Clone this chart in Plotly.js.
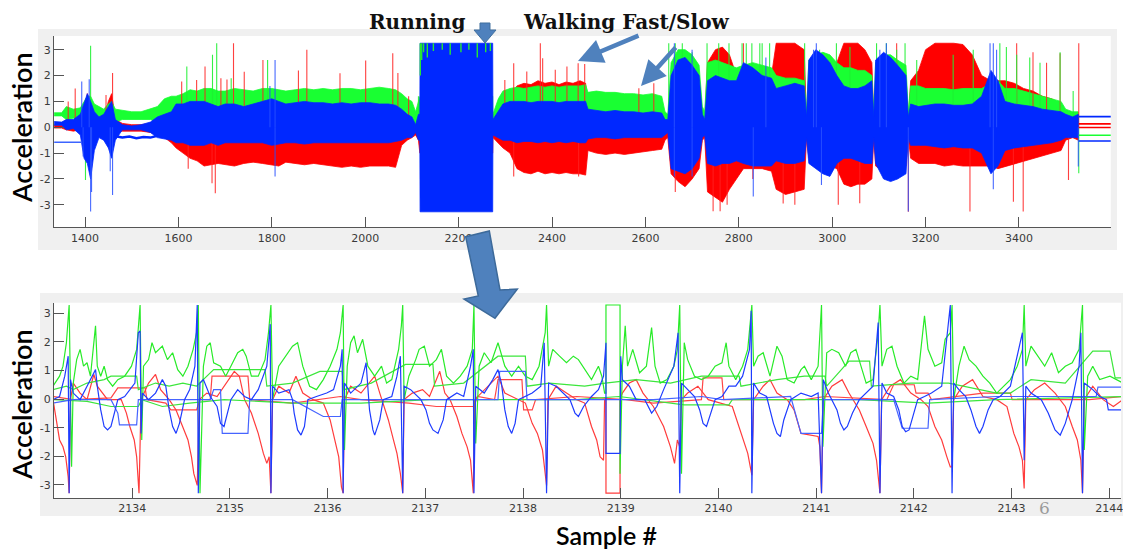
<!DOCTYPE html>
<html><head><meta charset="utf-8">
<script src="https://cdn.plot.ly/plotly-3.0.1.min.js"></script>
<style>html,body{margin:0;padding:0;background:#fff}#chart{width:1123px;height:552px}</style>
</head><body><div id="chart"></div>
<script>
// ---------- TOP PANEL: envelope of each colour per sample bin ----------
const envX = [
1334,1350,1360,1375,1390,1398,1405,1412,1420,1430,
1440,1450,1457,1465,1480,1500,1520,1540,1555,1570,
1585,1595,1610,1625,1640,1655,1670,1685,1700,1720,
1740,1760,1780,1800,1815,1830,1850,1870,1890,1910,
1930,1950,1970,1990,2010,2030,2050,2065,2078,2090,
2100,2108,2114,2117,2117.5,2273,2273.5,2285,2295,2310,
2325,2340,2355,2370,2385,2400,2415,2430,2445,2460,
2472,2477,2495,2515,2535,2555,2575,2595,2615,2635,
2642,2648,2655,2670,2685,2700,2715,2722,2727,2733,
2750,2765,2780,2795,2810,2830,2850,2870,2880,2900,
2920,2940,2945,2950,2965,2980,2995,3010,3025,3040,
3055,3070,3085,3089,3093,3110,3125,3140,3158,3163,
3168,3185,3200,3220,3240,3260,3280,3300,3320,3340,
3355,3370,3390,3410,3430,3450,3470,3490,3500,3515,
3527];
const greenHi = [
0.56,0.56,0.80,0.70,0.75,1.00,1.20,1.20,0.90,0.80,
0.70,0.90,1.00,0.70,0.65,0.60,0.60,0.70,0.80,1.10,
1.20,1.20,1.30,1.45,1.40,1.50,1.50,1.40,1.40,1.50,
1.45,1.40,1.50,1.50,1.45,1.40,1.45,1.50,1.45,1.50,
1.45,1.50,1.50,1.45,1.50,1.55,1.50,1.45,1.30,1.10,
1.00,0.60,1.00,1.20,1.20,1.20,0.50,1.10,1.40,1.50,
1.55,1.50,1.55,1.60,1.55,1.60,1.55,1.60,1.60,1.60,
1.65,1.35,1.40,1.35,1.35,1.30,1.30,1.25,1.30,1.20,
0.60,0.50,2.50,3.00,3.00,2.80,2.40,0.80,0.60,2.50,
2.60,2.50,2.40,2.30,2.40,2.50,2.40,2.30,2.00,1.90,
1.90,1.80,0.60,2.60,2.80,2.90,2.80,2.50,2.30,2.30,
2.20,2.20,2.00,0.60,2.50,2.80,2.80,2.60,2.40,0.60,
1.60,1.60,1.50,1.50,1.50,1.45,1.50,1.50,1.50,1.70,
1.80,1.50,1.50,1.40,1.30,1.20,1.10,1.00,0.70,0.60,
0.60];
const greenLo = [
0.44,0.44,0.30,0.35,0.30,0,0,0,0,0.20,
0.20,0.10,0,0.20,0.30,0.30,0.30,0.30,0.20,0.10,
0,0,0,0,0,0,0,0,0,0,
0,0,0,0,0,0,0,0,0,0,
0,0,0,0,0,0,0,0,0,0,
0,0,0,0,0,0,0,0,0,0,
0,0,0,0,0,0,0,0,0,0,
0,0,0,0,0,0,0,0,0,0,
0,0,0,0,0,0,0,0,0,0,
0,0,0,0,0,0,0,0,0,0,
0,0,0,0,0,0,0,0,0,0,
0,0,0,0,0,0,0,0,0,0,
0,0,0,0,0,0,0,0,0,0,
0,0,0,0,0,0,0,0,0,0,
0];
const redHi = [
0.08,0.08,0.30,0.25,0.30,0.40,1.30,0.80,0.30,0.30,
0.30,1.00,1.30,0.30,0.15,0.10,0.10,0.15,0.40,0.60,
0.50,0.80,0.90,1.00,1.00,1.20,1.10,1.10,1.10,1.20,
1.10,1.10,1.10,1.20,1.20,1.10,1.10,1.20,1.10,1.20,
1.10,1.20,1.20,1.10,1.20,1.20,1.20,1.10,1.00,0.60,
0.40,0.10,0.50,0.50,0.50,0.50,0.20,0.50,0.90,1.20,
1.60,1.70,1.65,1.80,1.70,1.75,1.65,1.75,1.70,1.80,
1.70,0.80,0.80,0.80,0.80,0.80,0.80,0.80,0.80,0.70,
0.30,0.30,1.50,2.00,2.20,2.00,1.80,0.50,0.30,2.50,
3.00,3.10,2.80,2.00,2.00,2.20,2.10,2.00,3.25,3.25,
3.25,3.00,0.30,1.50,1.50,1.60,1.60,2.50,3.25,3.25,
3.25,3.00,2.50,0.30,1.50,1.60,1.60,1.50,1.40,0.30,
1.80,2.20,3.00,3.25,3.25,3.25,3.20,2.80,2.00,1.80,
1.80,1.80,1.70,1.50,1.40,1.20,1.10,0.90,0.50,0.40,
0.40];
const redLo = [
-0.03,-0.03,-0.10,-0.15,-0.10,-0.40,-0.30,-0.30,-0.40,-0.20,
-0.10,-0.30,-0.40,-0.20,-0.15,-0.15,-0.15,-0.20,-0.30,-0.40,
-0.60,-0.80,-1.00,-1.20,-1.30,-1.50,-1.45,-1.40,-1.45,-1.50,
-1.40,-1.35,-1.40,-1.45,-1.50,-1.35,-1.40,-1.45,-1.40,-1.45,
-1.50,-1.55,-1.50,-1.55,-1.50,-1.50,-1.50,-1.55,-0.70,-0.50,
-0.40,-0.30,-0.50,-1.00,-1.00,-1.00,-0.40,-0.60,-0.80,-1.00,
-1.60,-1.75,-1.80,-1.70,-1.80,-1.75,-1.80,-1.75,-1.80,-1.80,
-1.85,-0.90,-1.00,-1.05,-1.00,-1.05,-1.00,-0.95,-0.90,-0.85,
-0.50,-0.40,-1.80,-2.10,-2.30,-2.00,-1.60,-0.50,-0.40,-2.50,
-2.70,-2.90,-2.40,-2.00,-1.60,-1.60,-1.60,-1.70,-2.40,-2.60,
-2.50,-2.40,-0.40,-1.20,-1.30,-1.40,-1.50,-1.60,-2.20,-2.30,
-2.20,-2.20,-2.00,-0.40,-1.50,-1.70,-1.80,-1.70,-1.50,-0.40,
-1.20,-1.40,-1.40,-1.40,-1.50,-1.45,-1.50,-1.50,-1.50,-1.50,
-1.60,-1.50,-1.40,-1.30,-1.20,-1.10,-1.00,-0.90,-0.50,-0.40,
-0.50];
const blueHi = [
0.22,0.20,0.30,0.30,0.50,0.90,1.30,1.00,0.60,0.40,
0.50,0.80,1.00,0.30,0.10,0.05,0.10,0.20,0.40,0.50,
0.60,0.90,0.90,1.00,1.00,1.00,0.90,0.80,0.90,0.90,
0.80,0.90,1.00,1.10,1.00,0.90,0.95,1.00,0.95,0.95,
0.90,0.95,0.90,0.95,0.95,0.90,0.90,0.85,0.70,0.50,
0.40,0.10,0.50,0.50,3.25,3.25,0.30,0.60,0.90,1.00,
1.00,1.00,0.95,1.00,1.00,1.00,0.95,1.00,1.00,1.00,
1.00,0.70,0.65,0.60,0.65,0.60,0.60,0.55,0.60,0.55,
0.30,0.30,2.00,2.60,2.70,2.40,2.00,0.50,0.30,1.80,
2.00,1.90,1.80,1.80,2.50,2.30,2.00,1.90,1.50,1.60,
1.70,1.60,0.40,2.60,3.00,2.80,2.50,2.00,1.60,1.50,
1.50,1.60,1.80,0.40,2.60,2.90,2.70,2.40,2.00,0.40,
0.90,0.80,0.85,0.90,0.90,0.85,0.85,0.90,1.20,2.20,
1.80,1.00,0.90,0.85,0.80,0.70,0.65,0.60,0.50,0.40,
0.50];
const blueLo = [
0.08,0.08,-0.10,-0.05,-0.30,-1.20,-1.40,-2.00,-0.90,-0.40,
-0.50,-0.80,-1.20,-0.50,-0.10,-0.10,-0.10,-0.20,-0.40,-0.45,
-0.50,-0.60,-0.60,-0.70,-0.70,-0.70,-0.60,-0.70,-0.60,-0.60,
-0.60,-0.60,-0.60,-0.70,-0.65,-0.60,-0.60,-0.65,-0.60,-0.60,
-0.60,-0.60,-0.60,-0.60,-0.60,-0.60,-0.60,-0.55,-0.50,-0.40,
-0.40,-0.20,-0.50,-0.50,-3.27,-3.27,-0.30,-0.40,-0.50,-0.50,
-0.60,-0.55,-0.55,-0.60,-0.55,-0.60,-0.55,-0.60,-0.55,-0.60,
-0.60,-0.45,-0.40,-0.40,-0.45,-0.40,-0.40,-0.40,-0.40,-0.40,
-0.30,-0.20,-1.60,-1.70,-1.80,-1.60,-1.20,-0.40,-0.30,-1.40,
-1.50,-1.40,-1.40,-1.30,-1.40,-1.50,-1.50,-1.50,-1.30,-1.40,
-1.40,-1.30,-0.40,-1.40,-1.60,-1.80,-1.90,-1.40,-1.20,-1.20,
-1.30,-1.40,-1.40,-0.40,-1.40,-2.00,-2.10,-2.00,-1.80,-0.40,
-0.70,-0.70,-0.70,-0.75,-0.80,-0.75,-0.80,-0.80,-1.00,-1.80,
-1.50,-0.90,-0.80,-0.75,-0.70,-0.65,-0.60,-0.50,-0.40,-0.40,
-0.40];

// isolated spikes (sample, tip value)
const redSpikeX = [1364,1379,1407,1445,1459,1607,1639,1657,1691,1704,1718,1741,1781,1857,1875,1946,2001,2059,2070,2093,2299,2318,2346,2375,2380,2407,2432,2456,2470,2586,2618,2810,3138,3395,3430,3459,3488,3528];
const redSpikeY = [1.0,1.5,1.2,1.25,2.1,1.77,1.83,2.35,1.9,1.85,3.25,2.15,2.6,2.2,3.0,2.09,2.58,2.86,2.1,1.2,1.83,2.48,2.16,3.25,2.67,2.22,2.35,2.48,2.45,1.51,1.7,3.25,3.25,3.25,2.9,2.5,2.86,3.25];
const redDipX = [1621,1672,1679,2318,2457,2664,2745,2760,2775,2830,2895,2920,3013,3059,3163,3295,3388,3409,3506];
const redDipY = [-1.6,-2.17,-2.55,-1.9,-1.9,-2.5,-3.25,-3.25,-3.0,-2.0,-2.95,-3.0,-3.0,-2.94,-3.27,-3.26,-2.88,-3.26,-2.04];
const greenSpikeX = [1412,1618,1673,1682,1713,1791,2114,2650,2664,2679,2700,2732,2757,2779,2807,2816,2828,2845,2850,2866,2941,2973,3009,3038,3095,3116,3138,3156,3181,3259,3302,3359,3373,3395,3423,3445,3488,3516];
const greenSpikeY = [3.15,2.35,2.8,3.25,1.9,2.6,1.2,3.25,3.25,3.25,2.9,3.25,3.25,3.25,3.25,3.25,3.25,3.25,3.25,3.25,3.25,3.0,3.25,3.1,3.25,3.25,3.0,3.25,2.6,2.8,3.0,3.25,3.1,2.8,2.7,2.5,2.9,1.4];
const greenDipX = [1401,3528];
const greenDipY = [-2.04,-1.78];
const blueSpikeX = [1393,1409,1796,1807,2662,2700,2858,2960,2966,3102,3116,3338,3345,3352];
const blueSpikeY = [1.77,1.86,1.6,2.6,3.25,3.0,2.7,3.0,3.25,3.0,3.25,3.25,3.25,3.0];
const blueDipX = [1396,1412,1414,1454,1459,1807,2662,2700,2831,2977,3163,3345,3527];
const blueDipY = [-1.13,-3.26,-2.5,-1.7,-2.62,-1.9,-1.9,-1.9,-2.68,-2.23,-3.26,-2.4,-1.52];
// green tufts inside the running block (from value up to the clip level)
const greenRunX = [2118,2121,2125,2133,2146,2165,2182,2205,2222,2240,2258,2268];
const greenRunLo = [2.0,2.6,2.9,2.7,2.95,3.0,2.8,2.9,3.0,2.7,2.9,2.95];
const runTop = 3.25;
// quiet-period flat lines
const blueFlatX = [1334,1393];
const blueFlatY = [-0.58,-0.58];
const blueDriftX = [1465,1480,1495,1510,1525,1540,1555];
const blueDriftY = [-0.35,-0.40,-0.36,-0.42,-0.38,-0.40,-0.33];
const endX = [3528,3597];
const endBlue = [0.41,-0.53];
const endRed = [0.13,-0.01];
const endGreen = [-0.31];

// ---------- BOTTOM PANEL: zoomed running segment, [sample, value] ----------
const redA = [[2133.19,-0.02],[2133.222,-0.73],[2133.257,-1.43],[2133.292,-1.67],[2133.32,-2.02],[2133.345,-2.72],[2133.355,-3.29],[2133.369,-0.02],[2133.397,0.56],[2133.467,0.21],[2133.538,-0.02],[2133.608,0.86],[2133.643,0.45],[2133.748,-0.02],[2133.888,-0.02],[2133.941,-0.49],[2133.976,-0.96],[2134.021,-1.43],[2134.046,-2.02],[2134.07,-3.29],[2134.091,-0.02],[2134.168,0.56],[2134.239,0.86],[2134.291,0.33],[2134.379,-0.02],[2134.449,-0.38],[2134.519,-0.96],[2134.571,-1.43],[2134.607,-2.02],[2134.631,-2.61],[2134.666,-3.02],[2134.687,-0.02],[2134.764,0.21],[2134.869,0.09],[2135.045,0.97],[2135.097,0.80],[2135.15,-0.02],[2135.22,-0.49],[2135.29,-1.20],[2135.343,-1.90],[2135.378,-2.25],[2135.402,-2.02],[2135.42,-3.29],[2135.437,-0.02],[2135.50,0.45],[2135.605,0.21],[2135.676,0.80],[2135.746,0.21],[2135.851,-0.02],[2135.956,-0.14],[2136.026,-0.73],[2136.079,-1.55],[2136.114,-2.02],[2136.142,-3.08],[2136.159,-3.29],[2136.173,-0.02],[2136.236,0.45],[2136.342,0.21],[2136.482,0.80],[2136.534,0.21],[2136.622,-0.73],[2136.674,-1.43],[2136.71,-1.90],[2136.745,-2.61],[2136.769,-3.29],[2136.783,-0.02],[2136.867,0.21],[2136.972,0.33],[2137.043,0.09],[2137.148,0.97],[2137.20,0.21],[2137.253,-0.02],[2137.323,-0.61],[2137.375,-1.20],[2137.428,-1.67],[2137.463,-2.14],[2137.491,-3.29],[2137.505,-0.02],[2137.603,0.33],[2137.744,0.80],[2137.814,0.21],[2137.954,-0.02],[2138.024,-0.14],[2138.094,-0.85],[2138.147,-1.20],[2138.199,-1.78],[2138.227,-2.61],[2138.241,-3.02],[2138.255,-0.02],[2138.339,0.45],[2138.445,0.21],[2138.55,-0.02],
[2138.631,-0.14],[2138.701,-0.96],[2138.754,-1.43],[2138.789,-2.02],[2138.824,-2.14],[2138.835,-0.02],[2138.849,-0.02],[2138.849,-3.29],[2138.993,-3.29],[2138.993,-0.02],[2139.017,0.21],[2139.088,0.56],[2139.158,0.68],[2139.228,0.21],[2139.334,-0.26],[2139.439,-0.96],[2139.509,-1.67],[2139.551,-2.25],[2139.58,-1.43],[2139.604,-1.67],[2139.622,-0.02],[2139.685,0.21],[2139.79,0.45],[2139.896,-0.02],[2140.142,-0.26],[2140.212,-0.96],[2140.265,-1.55],[2140.30,-1.90],[2140.342,-2.66],[2140.36,-0.02],[2140.458,0.45],[2140.528,0.68],[2140.599,0.21],[2140.704,-0.02],[2140.774,-0.38],[2140.845,-1.20],[2141.02,-1.31],[2141.038,-1.67],[2141.055,-3.29],[2141.073,-0.02],[2141.161,0.45],[2141.266,0.68],[2141.336,0.21],[2141.442,-0.38],[2141.512,-0.96],[2141.582,-1.55],[2141.618,-2.14],[2141.653,-3.29],[2141.67,-0.02],[2141.758,0.45],[2141.863,0.68],[2141.969,0.21],[2142.074,-0.02],[2142.145,-0.26],[2142.215,-0.96],[2142.285,-1.43],[2142.338,-2.02],[2142.373,-2.37],[2142.391,-2.37],[2142.408,-0.02],[2142.496,0.45],[2142.601,0.68],[2142.707,0.09],[2142.848,-0.02],[2142.953,-0.26],[2143.023,-1.20],[2143.076,-1.67],[2143.111,-2.14],[2143.129,-3.13],[2143.146,-0.02],[2143.234,0.33],[2143.339,0.56],[2143.445,0.21],[2143.55,-0.26],[2143.621,-0.96],[2143.673,-1.43],[2143.709,-2.14],[2143.726,-3.29],[2143.744,-0.02],[2143.831,0.45],[2143.937,-0.02],[2144.042,-0.26],[2144.14,-0.02]];
const redB = [[2133.19,0.09],[2133.397,-0.02],[2133.783,0.04],[2133.853,0.39],[2134.133,0.39],[2134.151,-0.02],[2134.344,-0.14],[2134.396,-0.38],[2134.659,-0.38],[2134.694,-0.02],[2134.799,-0.02],[2134.817,0.80],[2135.185,0.80],[2135.203,-0.02],[2135.641,-0.14],[2135.921,-0.02],[2136.131,0.09],[2136.342,-0.02],[2136.832,-0.14],[2137.113,-0.26],[2137.498,-0.26],[2137.533,0.09],[2137.709,-0.02],[2137.744,0.68],[2137.989,0.68],[2138.006,-0.38],[2138.094,-0.38],[2138.129,-0.02],[2138.55,0.09],[2139.053,-0.02],[2139.334,-0.14],[2139.826,-0.02],[2139.843,0.74],[2140.036,0.74],[2140.054,-0.02],[2140.88,-0.02],[2141.09,0.09],[2141.723,-0.02],[2141.793,0.50],[2142.004,0.50],[2142.022,0.21],[2142.145,0.21],[2142.18,-0.02],[2142.707,0.21],[2142.988,0.21],[2143.006,-0.02],[2143.796,-0.02],[2144.14,0.09]];
const greenA = [[2133.19,0.45],[2133.257,0.80],[2133.292,1.15],[2133.327,1.97],[2133.355,3.29],[2133.38,-2.37],[2133.397,0.56],[2133.432,1.38],[2133.467,1.74],[2133.502,1.15],[2133.538,1.27],[2133.573,0.80],[2133.625,2.56],[2133.643,1.15],[2133.678,0.80],[2133.713,1.15],[2133.748,0.68],[2133.80,0.45],[2133.853,0.68],[2133.923,0.80],[2133.993,1.15],[2134.046,1.74],[2134.081,3.29],[2134.098,-1.43],[2134.116,1.15],[2134.168,1.38],[2134.203,1.97],[2134.239,1.62],[2134.309,1.85],[2134.361,1.38],[2134.414,1.62],[2134.466,1.03],[2134.519,0.80],[2134.571,1.15],[2134.624,1.74],[2134.659,2.32],[2134.677,3.29],[2134.694,-3.29],[2134.729,1.15],[2134.764,1.85],[2134.799,1.97],[2134.834,1.27],[2134.904,1.15],[2134.957,0.80],[2135.01,1.15],[2135.08,1.62],[2135.132,1.74],[2135.167,1.50],[2135.22,0.80],[2135.29,0.80],[2135.36,1.38],[2135.395,2.32],[2135.42,3.29],[2135.437,-0.02],[2135.50,1.15],[2135.57,1.50],[2135.641,1.85],[2135.693,1.97],[2135.746,1.15],[2135.816,0.45],[2135.886,0.33],[2135.956,0.68],[2136.026,1.15],[2136.096,1.74],[2136.131,2.32],[2136.159,3.29],[2136.173,-1.78],[2136.201,1.15],[2136.236,1.97],[2136.271,2.21],[2136.306,1.62],[2136.359,2.09],[2136.412,1.15],[2136.482,0.80],[2136.552,1.15],[2136.604,0.56],[2136.657,0.68],[2136.727,1.74],[2136.755,2.56],[2136.769,3.29],[2136.783,-0.02],[2136.832,0.80],[2136.902,1.38],[2136.937,1.74],[2136.99,1.85],[2137.043,1.15],[2137.113,1.38],[2137.165,1.74],[2137.218,0.80],[2137.288,0.56],[2137.358,0.80],[2137.428,1.15],[2137.481,1.74],[2137.498,3.29],[2137.516,-1.55],[2137.551,1.15],[2137.603,1.62],[2137.673,1.27],[2137.744,1.97],[2137.814,1.15],[2137.884,0.80],[2137.954,1.15],[2138.024,0.80],[2138.094,0.68],[2138.164,1.15],[2138.227,2.32],[2138.241,3.29],[2138.262,1.15],[2138.304,1.74],[2138.374,1.50],[2138.445,1.27],[2138.515,1.50],[2138.567,1.38],
[2138.701,0.68],[2138.772,1.15],[2138.807,0.80],[2138.835,0.21],[2138.849,0.21],[2138.849,3.29],[2138.993,3.29],[2138.993,-2.61],[2139.017,1.15],[2139.046,2.56],[2139.07,1.15],[2139.123,1.74],[2139.193,0.92],[2139.263,1.15],[2139.316,2.50],[2139.351,1.15],[2139.404,0.56],[2139.474,0.68],[2139.544,1.15],[2139.58,1.74],[2139.604,3.29],[2139.622,-2.61],[2139.65,1.97],[2139.685,1.38],[2139.755,0.80],[2139.826,0.68],[2139.896,0.80],[2139.966,1.15],[2140.036,1.27],[2140.079,1.97],[2140.107,1.15],[2140.177,0.68],[2140.247,1.15],[2140.30,1.74],[2140.342,3.29],[2140.36,1.15],[2140.405,1.50],[2140.458,1.62],[2140.528,0.80],[2140.599,1.85],[2140.651,1.50],[2140.704,0.68],[2140.774,0.56],[2140.845,1.03],[2140.88,1.15],[2140.95,0.68],[2141.02,1.15],[2141.055,3.29],[2141.069,-1.67],[2141.108,1.62],[2141.161,1.74],[2141.231,1.62],[2141.301,1.15],[2141.354,1.62],[2141.407,1.74],[2141.46,1.15],[2141.512,0.56],[2141.582,0.68],[2141.635,2.32],[2141.653,3.29],[2141.674,1.15],[2141.723,1.74],[2141.776,1.85],[2141.828,1.15],[2141.899,0.56],[2141.969,0.80],[2142.039,0.68],[2142.109,2.91],[2142.145,1.74],[2142.215,1.15],[2142.285,1.27],[2142.32,2.09],[2142.373,2.32],[2142.391,3.29],[2142.408,-0.02],[2142.461,1.15],[2142.514,1.85],[2142.566,1.38],[2142.636,1.15],[2142.707,0.80],[2142.777,0.56],[2142.848,0.21],[2142.918,0.45],[2142.988,0.68],[2143.058,1.15],[2143.111,1.74],[2143.129,3.29],[2143.146,1.15],[2143.199,1.85],[2143.269,1.50],[2143.339,1.15],[2143.41,1.62],[2143.48,0.92],[2143.55,1.15],[2143.621,1.27],[2143.691,1.74],[2143.726,3.29],[2143.744,-1.78],[2143.779,0.80],[2143.831,1.15],[2143.902,0.68],[2144.007,0.80],[2144.14,0.56]];
const greenB = [[2133.19,0.33],[2133.327,0.45],[2133.397,0.33],[2133.538,0.56],[2133.713,0.68],[2133.783,0.80],[2134.046,0.80],[2134.063,0.33],[2134.239,0.56],[2134.379,0.45],[2134.519,0.56],[2134.659,0.45],[2134.834,1.03],[2135.36,1.03],[2135.378,0.45],[2135.641,0.56],[2135.921,0.97],[2136.149,0.97],[2136.166,0.33],[2136.447,0.56],[2136.797,1.21],[2137.078,1.21],[2137.095,0.45],[2137.393,0.56],[2137.744,1.50],[2138.024,1.50],[2138.041,0.45],[2138.269,0.56],[2138.631,0.45],[2138.842,0.56],[2139.158,0.68],[2139.509,0.56],[2139.826,0.80],[2140.212,0.80],[2140.23,0.45],[2140.599,0.68],[2140.88,0.80],[2141.09,0.80],[2141.108,0.45],[2141.336,1.33],[2141.547,1.33],[2141.565,0.45],[2141.969,0.56],[2142.356,0.56],[2142.848,0.21],[2142.988,0.21],[2143.199,0.68],[2143.55,0.56],[2143.831,1.68],[2144.007,1.68],[2144.06,0.74],[2144.14,0.74]];
const greenC = [[2133.19,-0.02],[2133.538,-0.08],[2133.783,-0.26],[2134.063,-0.26],[2134.098,-0.02],[2134.309,-0.26],[2134.589,-0.14],[2134.94,-0.02],[2135.641,-0.14],[2136.342,-0.14],[2137.043,-0.02],[2137.744,-0.02],[2138.55,-0.02],[2138.982,0.09],[2139.65,-0.20],[2140.107,-0.20],[2140.142,-0.02],[2141.442,-0.02],[2142.145,-0.14],[2142.848,-0.02],[2144.14,0.09]];
const blueA = [[2133.19,-0.02],[2133.257,0.09],[2133.31,0.80],[2133.345,1.50],[2133.355,-3.29],[2133.369,0.68],[2133.397,0.21],[2133.467,-0.02],[2133.538,0.45],[2133.59,0.80],[2133.625,1.03],[2133.643,0.45],[2133.678,-0.38],[2133.713,-0.96],[2133.748,-1.08],[2133.783,-0.96],[2133.818,-0.49],[2133.853,-0.02],[2133.923,0.09],[2134.028,0.56],[2134.063,2.32],[2134.081,2.38],[2134.091,-1.20],[2134.105,0.21],[2134.168,-0.02],[2134.239,0.21],[2134.309,0.68],[2134.344,0.45],[2134.379,-0.38],[2134.414,-0.96],[2134.449,-1.20],[2134.484,-0.85],[2134.536,-0.02],[2134.589,0.33],[2134.642,1.15],[2134.666,3.29],[2134.677,-3.29],[2134.694,0.56],[2134.729,0.68],[2134.799,0.09],[2134.869,-0.26],[2134.904,-0.85],[2134.94,-0.96],[2135.01,-0.02],[2135.08,0.33],[2135.15,0.09],[2135.22,-0.02],[2135.29,0.33],[2135.378,1.15],[2135.413,2.62],[2135.42,-3.29],[2135.437,0.45],[2135.50,0.21],[2135.605,0.33],[2135.641,-0.02],[2135.658,-0.49],[2135.693,-1.08],[2135.728,-1.26],[2135.763,-0.96],[2135.798,-0.02],[2135.886,0.09],[2135.991,0.21],[2136.061,0.33],[2136.131,1.15],[2136.149,1.74],[2136.159,-3.29],[2136.173,0.56],[2136.236,0.21],[2136.342,0.56],[2136.394,1.27],[2136.429,-0.38],[2136.464,-1.08],[2136.482,-1.26],[2136.534,-0.73],[2136.569,-0.02],[2136.657,0.09],[2136.71,0.80],[2136.745,1.50],[2136.769,-3.29],[2136.783,0.45],[2136.85,0.33],[2136.955,-0.02],[2137.007,-0.38],[2137.043,-0.85],[2137.078,-1.08],[2137.13,-1.20],[2137.183,-0.73],[2137.218,-0.02],[2137.323,0.21],[2137.393,0.09],[2137.463,1.15],[2137.491,1.74],[2137.498,-3.29],[2137.516,0.45],[2137.603,0.21],[2137.691,0.68],[2137.744,1.03],[2137.779,0.56],[2137.814,-0.38],[2137.849,-0.96],[2137.884,-1.20],[2137.919,-0.85],[2137.954,-0.02],[2138.094,0.21],[2138.182,0.45],[2138.217,1.97],[2138.241,-3.29],[2138.262,0.56],[2138.339,0.45],[2138.409,0.21],[2138.48,-0.02],[2138.532,-0.49],[2138.567,-0.61],[2138.62,-0.26],
[2138.701,0.09],[2138.772,0.33],[2138.824,0.80],[2138.849,1.97],[2138.849,-1.90],[2138.993,-1.90],[2139.0,1.50],[2139.017,0.68],[2139.088,0.45],[2139.158,-0.02],[2139.246,-0.02],[2139.316,-0.49],[2139.369,-0.26],[2139.439,0.33],[2139.544,1.15],[2139.587,2.32],[2139.604,-3.29],[2139.622,0.56],[2139.685,0.33],[2139.755,0.09],[2139.808,-0.38],[2139.843,-0.85],[2139.878,-0.96],[2139.913,-0.61],[2139.966,-0.02],[2140.036,0.09],[2140.107,0.45],[2140.177,0.45],[2140.247,0.80],[2140.318,1.74],[2140.335,3.09],[2140.342,-3.29],[2140.36,0.56],[2140.423,0.21],[2140.493,0.09],[2140.563,-0.85],[2140.599,-1.20],[2140.634,-1.31],[2140.669,-0.73],[2140.739,-0.02],[2140.845,0.21],[2140.95,0.09],[2141.02,0.21],[2141.055,-3.29],[2141.073,0.68],[2141.125,0.21],[2141.161,-0.02],[2141.213,-0.38],[2141.249,-0.85],[2141.284,-1.08],[2141.319,-0.96],[2141.372,-0.49],[2141.442,-0.02],[2141.512,0.21],[2141.582,0.45],[2141.635,2.68],[2141.653,-3.29],[2141.674,0.56],[2141.723,0.21],[2141.793,0.09],[2141.846,-0.38],[2141.881,-0.96],[2141.916,-1.14],[2141.951,-1.08],[2141.987,-0.61],[2142.039,-0.02],[2142.109,0.09],[2142.18,0.21],[2142.285,0.45],[2142.373,3.29],[2142.391,-3.29],[2142.408,0.56],[2142.461,0.33],[2142.531,0.09],[2142.584,-0.38],[2142.636,-0.96],[2142.672,-1.20],[2142.707,-0.96],[2142.76,-0.38],[2142.812,-0.02],[2142.883,0.09],[2142.988,0.45],[2143.111,2.32],[2143.129,-2.14],[2143.146,0.45],[2143.199,0.21],[2143.304,-0.02],[2143.375,-0.49],[2143.445,-1.08],[2143.498,-1.26],[2143.55,-0.85],[2143.621,-0.02],[2143.691,1.15],[2143.709,2.32],[2143.726,-3.29],[2143.744,0.56],[2143.831,0.33],[2143.902,0.09],[2143.972,-0.02],[2143.99,-0.38],[2144.14,-0.38]];
const blueB = [[2133.19,-0.14],[2133.397,-0.02],[2133.783,-0.02],[2133.853,-0.49],[2133.87,-0.90],[2134.046,-0.90],[2134.063,-0.02],[2134.344,-0.02],[2134.799,-0.02],[2134.834,0.33],[2134.904,0.33],[2134.922,-1.20],[2135.185,-1.20],[2135.203,-0.02],[2135.641,-0.02],[2135.956,-0.61],[2136.131,-0.61],[2136.149,-0.02],[2136.692,-0.02],[2137.744,-0.02],[2137.761,0.97],[2138.024,0.97],[2138.041,-0.02],[2138.55,-0.02],[2139.334,-0.02],[2139.826,0.09],[2140.036,-0.02],[2140.739,0.09],[2140.845,-1.20],[2141.055,-1.20],[2141.073,-0.02],[2141.793,-0.02],[2141.881,-1.02],[2142.145,-1.02],[2142.162,-0.02],[2142.848,0.09],[2143.866,0.09],[2143.884,0.42],[2144.14,0.42]];

const topTicks = [1400,1600,1800,2000,2200,2400,2600,2800,3000,3200,3400];
const bottomTicks = [2134,2135,2136,2137,2138,2139,2140,2141,2142,2143,2144];
const yTicks = [-3,-2,-1,0,1,2,3];
const yTickText = ['-3','-2','-1','0','1','2','3'];

// ---------- build ----------
const RED = 'rgb(255,0,0)', GREEN = 'rgb(25,255,50)', BLUE = 'rgb(0,40,255)';
function band(lo, hi, color) {
  return {type:'scatter', mode:'lines', xaxis:'x', yaxis:'y', hoverinfo:'skip',
    x: envX.concat(envX.slice().reverse()), y: hi.concat(lo.slice().reverse()),
    fill:'toself', fillcolor:color, line:{color:color, width:0.8}};
}
function spikes(xs, tips, base, color, w) {
  const x = [], y = [];
  xs.forEach((v, i) => { x.push(v, v, null); y.push(Array.isArray(base) ? base[i] : base, tips[i], null); });
  return {type:'scatter', mode:'lines', xaxis:'x', yaxis:'y', hoverinfo:'skip', x, y, line:{color, width:w||1.1}};
}
function levels(xs, lv, color) {
  const x = [], y = [];
  lv.forEach(v => { x.push(xs[0], xs[1], null); y.push(v, v, null); });
  return {type:'scatter', mode:'lines', xaxis:'x', yaxis:'y', hoverinfo:'skip', x, y, line:{color, width:1.6}};
}
function series(pts, color, w) {
  return {type:'scatter', mode:'lines', xaxis:'x2', yaxis:'y2', hoverinfo:'skip',
    x: pts.map(p => p[0]), y: pts.map(p => p[1]), line:{color, width:w||1.2}};
}

const traces = [
  band(redLo, redHi, RED),
  band(greenLo, greenHi, GREEN),
  spikes(redSpikeX, redSpikeY, 0, 'rgba(255,30,30,0.85)'),
  spikes(redDipX, redDipY, 0, 'rgba(255,30,30,0.85)'),
  spikes(greenSpikeX, greenSpikeY, 0, 'rgba(30,240,50,0.9)'),
  spikes(greenDipX, greenDipY, 0, 'rgba(30,240,50,0.9)'),
  band(blueLo, blueHi, BLUE),
  spikes(blueSpikeX, blueSpikeY, 0, 'rgba(40,80,255,0.85)'),
  spikes(blueDipX, blueDipY, 0, 'rgba(40,80,255,0.85)'),
  spikes(greenRunX, greenRunX.map(() => runTop), greenRunLo, 'rgb(40,230,50)', 1.4),
  {type:'scatter', mode:'lines', xaxis:'x', yaxis:'y', hoverinfo:'skip', x:blueFlatX, y:blueFlatY, line:{color:'rgb(60,100,255)', width:1.3}},
  {type:'scatter', mode:'lines', xaxis:'x', yaxis:'y', hoverinfo:'skip', x:blueDriftX, y:blueDriftY, line:{color:BLUE, width:2.5}},
  levels(endX, endGreen, GREEN),
  levels(endX, endRed, RED),
  levels(endX, endBlue, BLUE),
  series(redB, 'rgb(255,70,70)'),
  series(redA, 'rgb(255,60,60)'),
  series(greenC, 'rgb(60,230,60)'),
  series(greenB, 'rgb(60,230,60)'),
  series(greenA, 'rgb(40,235,40)'),
  series(blueB, 'rgb(70,100,255)'),
  series(blueA, 'rgb(30,60,255)')
];

const X = p => (p - 54) / 1067;
const Y = p => (498 - p) / 462;
function pathOf(pts) { return 'M ' + pts.map(p => X(p[0]).toFixed(5) + ' ' + Y(p[1]).toFixed(5)).join(' L ') + ' Z'; }

const axisStyle = {showgrid:false, zeroline:false, showline:true, linecolor:'#555', linewidth:1,
  ticks:'inside', ticklen:10, tickcolor:'#555', tickwidth:1, ticklabeloverflow:'allow',
  tickfont:{family:'DejaVu Sans, sans-serif', size:11, color:'#3a3a3a'}, fixedrange:true};

const layout = {
  width:1123, height:552,
  margin:{l:54, r:2, t:36, b:54},
  paper_bgcolor:'#ffffff', plot_bgcolor:'rgba(0,0,0,0)',
  showlegend:false,
  xaxis:Object.assign({}, axisStyle, {domain:[0,0.9904], range:[1333.6,3596.5], anchor:'y', tickmode:'array', tickvals:topTicks}),
  yaxis:Object.assign({}, axisStyle, {domain:[0.5859,1], range:[-3.87,3.53], anchor:'x', tickmode:'array', tickvals:yTicks, ticktext:yTickText}),
  xaxis2:Object.assign({}, axisStyle, {domain:[0,1], range:[2133.2,2144.12], anchor:'y2', tickmode:'array', tickvals:bottomTicks}),
  yaxis2:Object.assign({}, axisStyle, {domain:[0,0.4227], range:[-3.46,3.37], anchor:'x2', tickmode:'array', tickvals:yTicks, ticktext:yTickText}),
  shapes:[
    {type:'rect', xref:'paper', yref:'paper', layer:'below', x0:X(38), x1:X(1117), y0:Y(250), y1:Y(29), fillcolor:'#f0f0f0', line:{width:0}},
    {type:'rect', xref:'paper', yref:'paper', layer:'below', x0:0, x1:0.9904, y0:0.5859, y1:1, fillcolor:'#ffffff', line:{width:0}},
    {type:'rect', xref:'paper', yref:'paper', layer:'below', x0:X(40), x1:X(1123), y0:Y(516), y1:Y(293), fillcolor:'#f0f0f0', line:{width:0}},
    {type:'rect', xref:'paper', yref:'paper', layer:'below', x0:0, x1:1, y0:0, y1:0.4227, fillcolor:'#ffffff', line:{width:0}},
    {type:'path', xref:'paper', yref:'paper', layer:'above', fillcolor:'#4f81bd', line:{color:'#41709f', width:1},
      path:pathOf([[480,23],[490,23],[490,30],[496,30],[485,43],[474,30],[480,30]])},
    {type:'path', xref:'paper', yref:'paper', layer:'above', fillcolor:'#4f81bd', line:{color:'#3d6a9a', width:1.5},
      path:pathOf([[465.7,236.7],[489.3,231],[500,290],[517.3,289],[495,318.3],[464,299],[478.3,296]])}
  ],
  annotations:[
    {xref:'paper', yref:'paper', x:X(21), y:Y(128), text:'Acceleration', showarrow:false, textangle:-90, xanchor:'center', yanchor:'middle', font:{family:'Lato, sans-serif', size:27, color:'#000', weight:600}},
    {xref:'paper', yref:'paper', x:X(21), y:Y(405), text:'Acceleration', showarrow:false, textangle:-90, xanchor:'center', yanchor:'middle', font:{family:'Lato, sans-serif', size:27, color:'#000', weight:600}},
    {xref:'paper', yref:'paper', x:X(606), y:Y(535), text:'Sample #', showarrow:false, xanchor:'center', yanchor:'middle', font:{family:'Lato, sans-serif', size:25, color:'#000', weight:600}},
    {xref:'paper', yref:'paper', x:X(417), y:Y(22), text:'<b>Running</b>', showarrow:false, xanchor:'center', yanchor:'middle', font:{family:'DejaVu Serif, serif', size:20, color:'#111'}},
    {xref:'paper', yref:'paper', x:X(626), y:Y(22), text:'<b>Walking Fast/Slow</b>', showarrow:false, xanchor:'center', yanchor:'middle', font:{family:'DejaVu Serif, serif', size:20, color:'#111'}},
    {xref:'paper', yref:'paper', x:X(1044), y:Y(508), text:'6', showarrow:false, xanchor:'center', yanchor:'middle', font:{family:'DejaVu Serif, serif', size:17, color:'#9a9a9a'}},
    {xref:'paper', yref:'paper', x:X(578), y:Y(61), ax:62, ay:-26, text:'', showarrow:true, arrowhead:2, arrowsize:1.1, arrowwidth:4.5, arrowcolor:'#4f81bd'},
    {xref:'paper', yref:'paper', x:X(641), y:Y(86), ax:36, ay:-40, text:'', showarrow:true, arrowhead:2, arrowsize:1.1, arrowwidth:4.5, arrowcolor:'#4f81bd'}
  ]
};

Plotly.newPlot('chart', traces, layout, {staticPlot:true, displayModeBar:false});
</script></body></html>
